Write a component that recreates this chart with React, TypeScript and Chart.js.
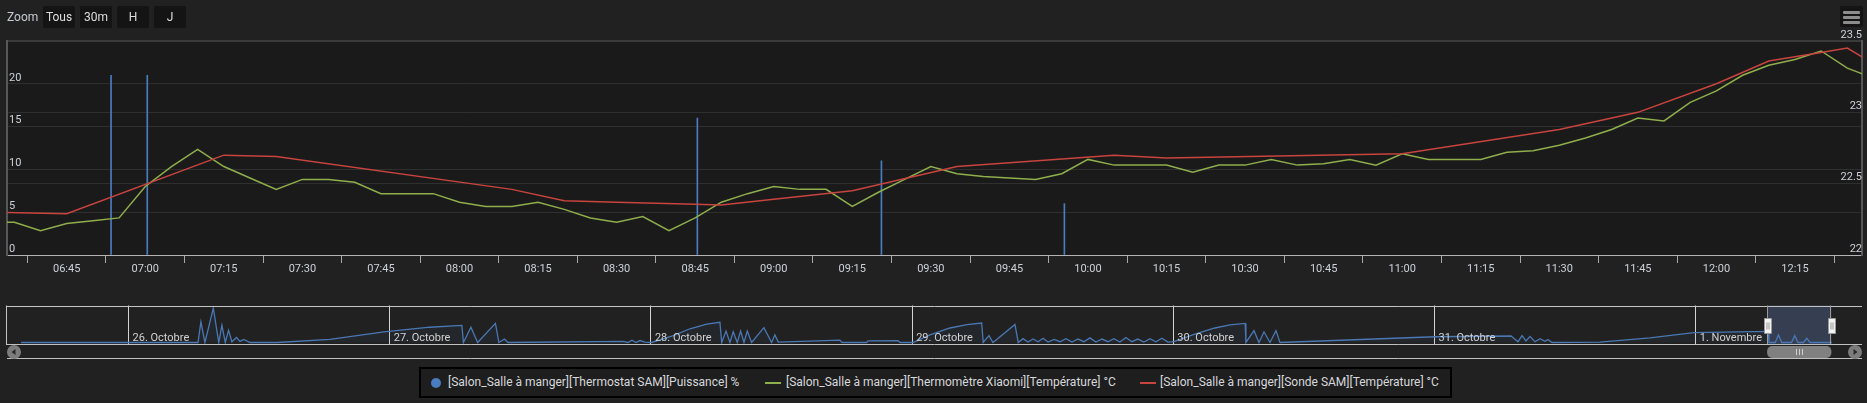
import React, { useEffect, useRef } from "react";
import { Chart, registerables } from "chart.js";

Chart.register(...registerables);

const FONT = "Roboto, 'Noto Sans', 'DejaVu Sans', sans-serif";

// ───────── texts ─────────
const zoomLabel = "Zoom";
const rangeButtons = ["Tous", "30m", "H", "J"];
const seriesNames = [
  "[Salon_Salle à manger][Thermostat SAM][Puissance] %",
  "[Salon_Salle à manger][Thermomètre Xiaomi][Température] °C",
  "[Salon_Salle à manger][Sonde SAM][Température] °C",
];

// ───────── main chart (1 Novembre) ─────────
const viewStart = "06:33:36";
const viewEnd = "12:27:48";
const timeTicks = [
  "06:45", "07:00", "07:15", "07:30", "07:45", "08:00", "08:15", "08:30",
  "08:45", "09:00", "09:15", "09:30", "09:45", "10:00", "10:15", "10:30",
  "10:45", "11:00", "11:15", "11:30", "11:45", "12:00", "12:15",
];
const leftTicks = [0, 5, 10, 15, 20];
const leftMax = 25;
const rightTicks = [22, 22.5, 23, 23.5];

const puissanceTimes = ["06:53:28", "07:00:23", "08:45:25", "09:20:34", "09:55:30"];
const puissanceValues = [21, 21, 16, 11, 6];

const xiaomiTimes = [
  "06:30", "06:35", "06:40", "06:45", "06:50", "06:55",
  "07:00", "07:05", "07:10", "07:15", "07:20", "07:25", "07:30", "07:35", "07:40", "07:45", "07:50", "07:55",
  "08:00", "08:05", "08:10", "08:15", "08:20", "08:25", "08:30", "08:35", "08:40", "08:45", "08:50", "08:55",
  "09:00", "09:05", "09:10", "09:15", "09:20", "09:25", "09:30", "09:35", "09:40", "09:45", "09:50", "09:55",
  "10:00", "10:05", "10:10", "10:15", "10:20", "10:25", "10:30", "10:35", "10:40", "10:45", "10:50", "10:55",
  "11:00", "11:05", "11:10", "11:15", "11:20", "11:25", "11:30", "11:35", "11:40", "11:45", "11:50", "11:55",
  "12:00", "12:05", "12:10", "12:15", "12:20", "12:25", "12:30",
];
const xiaomiTemps = [
  22.23, 22.23, 22.17, 22.22, 22.24, 22.26,
  22.48, 22.62, 22.74, 22.62, 22.54, 22.46, 22.53, 22.53, 22.51, 22.43, 22.43, 22.43,
  22.37, 22.34, 22.34, 22.37, 22.32, 22.26, 22.23, 22.27, 22.17, 22.26, 22.37, 22.43,
  22.48, 22.46, 22.46, 22.34, 22.44, 22.53, 22.62, 22.57, 22.55, 22.54, 22.53, 22.57,
  22.67, 22.63, 22.63, 22.63, 22.58, 22.63, 22.63, 22.67, 22.63, 22.64, 22.67, 22.63,
  22.71, 22.67, 22.67, 22.67, 22.72, 22.73, 22.77, 22.82, 22.88, 22.96, 22.94, 23.07,
  23.15, 23.26, 23.33, 23.37, 23.43, 23.31, 23.24,
];

const sondeTimes = [
  "06:30", "06:45", "07:15", "07:25", "08:10", "08:20", "08:30", "08:45", "08:50", "09:00", "09:15",
  "09:35", "10:05", "10:15", "11:00", "11:30", "11:45", "12:00", "12:10", "12:20", "12:25", "12:30",
];
const sondeTemps = [
  22.3, 22.29, 22.7, 22.69, 22.46, 22.38, 22.37, 22.355, 22.35, 22.39, 22.45,
  22.62, 22.7, 22.68, 22.71, 22.88, 23.0, 23.2, 23.36, 23.42, 23.45, 23.34,
];

// ───────── navigator (hours since 26 Oct 00:00) ─────────
const navDays = ["26. Octobre", "27. Octobre", "28. Octobre", "29. Octobre", "30. Octobre", "31. Octobre", "1. Novembre"];
const navAxisMin = -9.88;
const navAxisMax = 157.99;
const navHours = [
  -9.88, 6.38, 6.65, 7.02, 7.79, 8.29, 8.58, 8.89, 9.19, 9.5, 9.92, 10.24, 10.6, 11.16, 13.64, 18.51, 23.47,
  27.69, 30.63, 30.77, 31.46, 32.08, 33.71, 34.03, 34.54, 34.86, 45.41, 45.89, 46.26, 46.62, 46.99, 47.45,
  48.07, 50.05, 51.59, 53.12, 54.34, 54.5, 54.9, 55.26, 55.56, 55.93, 56.24, 56.55, 56.85, 57.25, 58.38, 59.09, 59.39, 59.7, 65.36, 65.55, 67.82, 67.94, 70.7, 70.88,
  72.08, 73.64, 75.48, 77.04, 78.39, 78.53, 79.06, 79.43, 81.45, 81.75, 82.19, 82.65, 83.11, 83.57, 84.03, 84.49,
  85.04, 85.59, 86.14, 86.69, 87.24, 87.79, 88.34, 88.89, 89.44, 89.99, 90.54, 91.09, 91.64, 92.19, 92.74, 93.3,
  93.85, 94.4, 94.95, 95.5,
  96.05, 97.98, 99.82, 101.2, 102.6, 102.67, 103.41, 103.87, 104.33, 104.88, 105.43, 105.8, 120.05,
  127.03, 127.67, 128.04, 128.4, 128.77, 129.23, 129.69, 130.15, 130.42, 130.79, 135.2, 139.79, 143.84,
  150.64, 150.73, 151.3, 151.6, 151.9, 152.8, 153.1, 153.4, 153.9, 154.2, 154.5, 156.5,
];
const navValues = [
  0, 0, 54, 0, 90, 0, 45, 0, 32, 2, 13, 3, 8, 0, 0, 8, 28,
  40, 45, 0, 40, 0, 50, 0, 9, 0, 3, 0, 6, 0, 5, 1,
  0, 18, 36, 48, 53, 0, 30, 0, 28, 0, 30, 0, 30, 0, 39, 0, 20, 1, 6, 0, 0, 4, 5, 0,
  0, 20, 38, 47, 51, 0, 18, 0, 47, 0, 10, 1, 9, 2, 11, 1,
  8, 2, 10, 1, 9, 2, 12, 1, 9, 2, 10, 1, 13, 2, 9, 1,
  10, 2, 11, 1,
  2, 22, 38, 46, 50, 0, 31, 0, 28, 0, 31, 0, 15,
  17, 2, 18, 4, 16, 2, 10, 3, 8, 0, 1, 12, 26,
  29, 0, 0, 20, 0, 0, 18, 0, 0, 11, 0, 0,
];
const navSelectedDay = 6;

// ───────── styles ─────────
const BG = "#212121";
const PLOT_BG = "#1a1a1a";
const GRID = "#2f2f2f";
const LABEL = "#cdd2da";
const BLUE = "#4a7cc0";
const GREEN = "#8fae4c";
const RED = "#c8443f";

const toMin = (t: string) => {
  const [h, m, s] = t.split(":").map(Number);
  return h * 60 + m + (s || 0) / 60;
};
const fmtMin = (v: number) => {
  const h = Math.floor(v / 60 + 1e-9);
  const m = Math.round(v - h * 60);
  return `${String(h).padStart(2, "0")}:${String(m).padStart(2, "0")}`;
};

const plotBg = {
  id: "plotBg",
  beforeDraw(chart: any) {
    const { ctx, chartArea: a } = chart;
    ctx.save();
    ctx.fillStyle = PLOT_BG;
    ctx.fillRect(a.left, a.top, a.right - a.left, a.bottom - a.top);
    ctx.restore();
  },
};

function mainConfig(): any {
  return {
    type: "line",
    data: {
      datasets: [
        {
          type: "bar",
          label: seriesNames[0],
          data: puissanceTimes.map((t, i) => ({ x: toMin(t), y: puissanceValues[i] })),
          backgroundColor: BLUE,
          borderWidth: 0,
          barThickness: 1,
          yAxisID: "yL",
          order: 3,
        },
        {
          type: "line",
          label: seriesNames[1],
          data: xiaomiTimes.map((t, i) => ({ x: toMin(t), y: xiaomiTemps[i] })),
          borderColor: GREEN,
          borderWidth: 1.5,
          pointRadius: 0,
          tension: 0,
          yAxisID: "yR",
          order: 2,
        },
        {
          type: "line",
          label: seriesNames[2],
          data: sondeTimes.map((t, i) => ({ x: toMin(t), y: sondeTemps[i] })),
          borderColor: RED,
          borderWidth: 1.5,
          pointRadius: 0,
          tension: 0,
          yAxisID: "yR",
          order: 1,
        },
      ],
    },
    options: {
      animation: false,
      responsive: false,
      maintainAspectRatio: false,
      devicePixelRatio: 1,
      layout: { padding: { left: 7, right: 5, top: 41, bottom: 0 } },
      plugins: { legend: { display: false }, tooltip: { enabled: false } },
      scales: {
        x: {
          type: "linear",
          min: toMin(viewStart),
          max: toMin(viewEnd),
          offset: false,
          afterBuildTicks: (s: any) => {
            s.ticks = timeTicks.map((t) => ({ value: toMin(t) }));
          },
          afterFit: (s: any) => {
            s.height = 30;
          },
          ticks: {
            callback: (v: number) => fmtMin(v),
            color: LABEL,
            font: { family: FONT, size: 11 },
            padding: 0,
            maxRotation: 0,
            autoSkip: false,
          },
          grid: {
            display: true,
            drawOnChartArea: false,
            drawTicks: true,
            tickLength: 8,
            tickColor: "#a8a8a8",
            color: "#a8a8a8",
          },
          border: { display: true, color: "#b4b4b4", width: 1 },
        },
        yL: {
          type: "linear",
          position: "left",
          min: 0,
          max: leftMax,
          afterBuildTicks: (s: any) => {
            s.ticks = leftTicks.map((v) => ({ value: v }));
          },
          afterFit: (s: any) => {
            s.width = 0;
          },
          ticks: {
            mirror: true,
            padding: 2,
            labelOffset: -6,
            color: LABEL,
            font: { family: FONT, size: 11 },
            callback: (v: number) => String(v),
          },
          grid: { color: GRID, drawTicks: false, lineWidth: 1 },
          border: { display: true, color: "#575757", width: 2 },
        },
        yR: {
          type: "linear",
          position: "right",
          min: 22,
          max: 23.5,
          afterBuildTicks: (s: any) => {
            s.ticks = rightTicks.map((v) => ({ value: v }));
          },
          afterFit: (s: any) => {
            s.width = 0;
          },
          ticks: {
            mirror: true,
            padding: 0,
            labelOffset: -6,
            color: LABEL,
            font: { family: FONT, size: 11 },
            callback: (v: number) => String(v),
          },
          grid: {
            color: (c: any) => (c.tick && c.tick.value === 23.5 ? "#3a3a3a" : GRID),
            lineWidth: (c: any) => (c.tick && c.tick.value === 23.5 ? 2 : 1),
            drawTicks: false,
          },
          border: { display: true, color: "#575757", width: 2 },
        },
      },
    },
    plugins: [plotBg],
  };
}

const navDecor = {
  id: "navDecor",
  beforeDatasetsDraw(chart: any) {
    const { ctx, chartArea: a, scales } = chart;
    const x0 = scales.x.getPixelForValue(navSelectedDay * 24 + toMin(viewStart) / 60);
    const x1 = scales.x.getPixelForValue(navSelectedDay * 24 + toMin(viewEnd) / 60);
    ctx.save();
    ctx.fillStyle = "rgba(102,133,194,0.3)";
    ctx.fillRect(x0, a.top, x1 - x0, a.bottom - a.top);
    ctx.restore();
  },
  afterDatasetsDraw(chart: any) {
    const { ctx, chartArea: a, scales } = chart;
    const sx = scales.x;
    const x0 = sx.getPixelForValue(navSelectedDay * 24 + toMin(viewStart) / 60);
    const x1 = sx.getPixelForValue(navSelectedDay * 24 + toMin(viewEnd) / 60);
    const L = a.left - 14;
    const R = a.right + 14;
    ctx.save();
    // day labels
    ctx.font = `11px ${FONT}`;
    ctx.fillStyle = "#d2d2d2";
    ctx.textBaseline = "alphabetic";
    ctx.textAlign = "left";
    navDays.forEach((d, i) => {
      const x = sx.getPixelForValue(i * 24);
      ctx.fillText(d, x + 4, a.bottom - 3.3);
    });
    // outline
    ctx.strokeStyle = "#c4c4c4";
    ctx.lineWidth = 1;
    ctx.beginPath();
    ctx.moveTo(L, Math.round(a.top) + 0.5);
    ctx.lineTo(R, Math.round(a.top) + 0.5);
    ctx.moveTo(L - 0.5, a.top);
    ctx.lineTo(L - 0.5, a.bottom + 1);
    ctx.stroke();
    // selection edges
    ctx.strokeStyle = "#9a9a9a";
    ctx.beginPath();
    ctx.moveTo(Math.round(x0) + 0.5, a.top);
    ctx.lineTo(Math.round(x0) + 0.5, a.bottom);
    ctx.moveTo(Math.round(x1) - 0.5, a.top);
    ctx.lineTo(Math.round(x1) - 0.5, a.bottom);
    ctx.stroke();
    // scrollbar track
    const tb = Math.round(a.bottom);
    ctx.strokeStyle = "#c0c0c0";
    ctx.beginPath();
    ctx.moveTo(L, tb + 0.5);
    ctx.lineTo(R, tb + 0.5);
    ctx.moveTo(L, tb + 14.5);
    ctx.lineTo(R, tb + 14.5);
    ctx.stroke();
    // buttons
    const cy = tb + 8;
    [L + 7, R - 7].forEach((cx, k) => {
      ctx.fillStyle = "#7c7c7c";
      ctx.beginPath();
      ctx.arc(cx, cy, 7, 0, Math.PI * 2);
      ctx.fill();
      ctx.fillStyle = "#2a2a2a";
      ctx.beginPath();
      if (k === 0) {
        ctx.moveTo(cx - 2.5, cy);
        ctx.lineTo(cx + 1.5, cy - 3);
        ctx.lineTo(cx + 1.5, cy + 3);
      } else {
        ctx.moveTo(cx + 2.5, cy);
        ctx.lineTo(cx - 1.5, cy - 3);
        ctx.lineTo(cx - 1.5, cy + 3);
      }
      ctx.closePath();
      ctx.fill();
    });
    // thumb
    ctx.fillStyle = "#808080";
    ctx.beginPath();
    (ctx as any).roundRect(x0, tb + 2, x1 - x0, 12, 5);
    ctx.fill();
    const mx = Math.round((x0 + x1) / 2);
    ctx.strokeStyle = "#d0d0d0";
    ctx.beginPath();
    [-3, 0, 3].forEach((d) => {
      ctx.moveTo(mx + d + 0.5, tb + 5);
      ctx.lineTo(mx + d + 0.5, tb + 11);
    });
    ctx.stroke();
    // handles
    [x0, x1].forEach((hx) => {
      const rx = Math.round(hx - 3.5) + 0.5;
      const ry = Math.round(a.top + 12) + 0.5;
      ctx.fillStyle = "#f2f2f2";
      ctx.strokeStyle = "#999999";
      ctx.beginPath();
      ctx.rect(rx, ry, 7, 15);
      ctx.fill();
      ctx.stroke();
      ctx.beginPath();
      ctx.moveTo(rx + 2.5, ry + 4);
      ctx.lineTo(rx + 2.5, ry + 11);
      ctx.moveTo(rx + 4.5, ry + 4);
      ctx.lineTo(rx + 4.5, ry + 11);
      ctx.stroke();
    });
    ctx.restore();
  },
};

function navConfig(): any {
  return {
    type: "line",
    data: {
      datasets: [
        {
          data: navHours.map((h, i) => ({ x: h, y: navValues[i] })),
          borderColor: "#4a78b4",
          borderWidth: 1.3,
          pointRadius: 0,
          tension: 0,
          fill: "origin",
          backgroundColor: "rgba(74,120,180,0.06)",
        },
      ],
    },
    options: {
      animation: false,
      responsive: false,
      maintainAspectRatio: false,
      devicePixelRatio: 1,
      layout: { padding: { left: 21, right: 19, top: 5.5, bottom: 18 } },
      plugins: { legend: { display: false }, tooltip: { enabled: false } },
      scales: {
        x: {
          type: "linear",
          min: navAxisMin,
          max: navAxisMax,
          afterBuildTicks: (s: any) => {
            s.ticks = navDays.map((_, i) => ({ value: i * 24 }));
          },
          afterFit: (s: any) => {
            s.height = 0;
          },
          ticks: { display: false },
          grid: { color: "#d4d4d4", lineWidth: 1, drawTicks: false },
          border: { display: false },
        },
        y: { display: false, min: -4, max: 97 },
      },
    },
    plugins: [navDecor],
  };
}

const legendColors = [BLUE, GREEN, RED];
const legendSymbolLeft = [431, 765, 1140];
const legendTextLeft = [448, 786, 1160];

export default function App() {
  const mainRef = useRef<HTMLCanvasElement>(null);
  const navRef = useRef<HTMLCanvasElement>(null);

  useEffect(() => {
    document.body.style.margin = "0";
    document.body.style.background = BG;
    const main = new Chart(mainRef.current as HTMLCanvasElement, mainConfig());
    const nav = new Chart(navRef.current as HTMLCanvasElement, navConfig());
    return () => {
      main.destroy();
      nav.destroy();
    };
  }, []);

  return (
    <div
      style={{
        position: "absolute",
        left: 0,
        top: 0,
        width: 1867,
        height: 403,
        background: BG,
        overflow: "hidden",
        fontFamily: FONT,
      }}
    >
      <canvas
        ref={mainRef}
        width={1867}
        height={285}
        style={{ position: "absolute", left: 0, top: 0, width: 1867, height: 285 }}
      />
      <canvas
        ref={navRef}
        width={1867}
        height={62}
        style={{ position: "absolute", left: 0, top: 300, width: 1867, height: 62 }}
      />
      {/* range selector */}
      <div
        style={{
          position: "absolute",
          left: 7,
          top: 6,
          height: 22,
          lineHeight: "22px",
          fontSize: 12,
          color: "#c6cad2",
        }}
      >
        {zoomLabel}
      </div>
      {rangeButtons.map((b, i) => (
        <div
          key={b}
          style={{
            position: "absolute",
            left: 43 + i * 37,
            top: 6,
            width: 32,
            height: 22,
            lineHeight: "22px",
            textAlign: "center",
            background: "#141414",
            borderRadius: 2,
            color: "#dedede",
            fontSize: 12,
          }}
        >
          {b}
        </div>
      ))}
      {/* export menu */}
      <div
        style={{
          position: "absolute",
          left: 1840,
          top: 6,
          width: 23,
          height: 21,
          background: "#141414",
          borderRadius: 2,
        }}
      >
        {[5, 10, 15].map((t) => (
          <div
            key={t}
            style={{
              position: "absolute",
              left: 3,
              top: t,
              width: 17,
              height: 3,
              borderRadius: 1,
              background: "#8c8c8c",
            }}
          />
        ))}
      </div>
      {/* legend */}
      <div
        style={{
          position: "absolute",
          left: 419,
          top: 367,
          width: 1033,
          height: 31,
          boxSizing: "border-box",
          border: "2px solid #000",
          background: "#1e1e1e",
        }}
      />
      {seriesNames.map((name, i) => (
        <React.Fragment key={name}>
          {i === 0 ? (
            <div
              style={{
                position: "absolute",
                left: legendSymbolLeft[i],
                top: 377.5,
                width: 10,
                height: 10,
                borderRadius: 5,
                background: legendColors[i],
              }}
            />
          ) : (
            <div
              style={{
                position: "absolute",
                left: legendSymbolLeft[i],
                top: 381.5,
                width: 16,
                height: 2,
                background: legendColors[i],
              }}
            />
          )}
          <div
            style={{
              position: "absolute",
              left: legendTextLeft[i],
              top: 374,
              height: 17,
              lineHeight: "17px",
              fontSize: 12,
              color: "#d6d8dc",
              whiteSpace: "nowrap",
            }}
          >
            {name}
          </div>
        </React.Fragment>
      ))}
    </div>
  );
}
